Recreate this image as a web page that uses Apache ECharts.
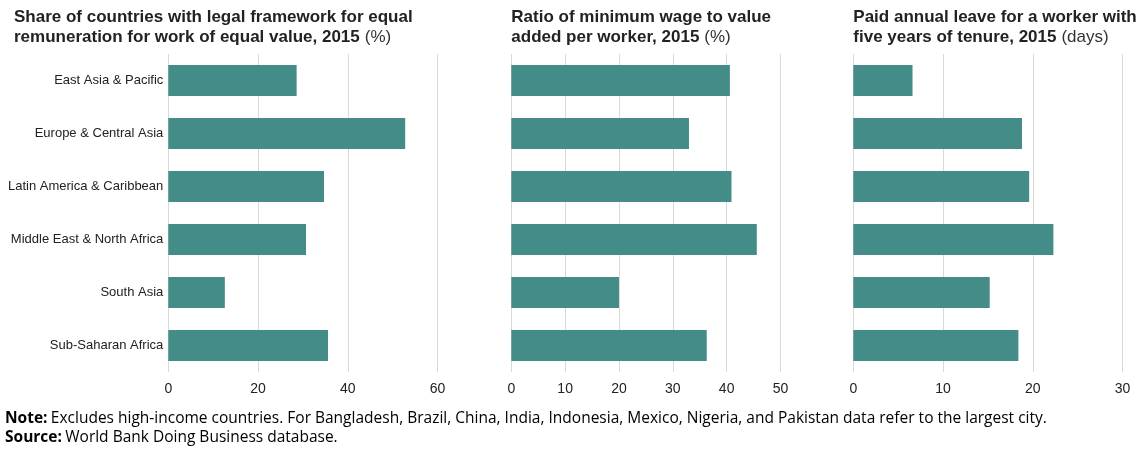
<!DOCTYPE html>
<html><head><meta charset="utf-8">
<script src="https://cdn.jsdelivr.net/npm/echarts@6/dist/echarts.min.js"></script>
<style>html,body{margin:0;padding:0;background:#fff}#c{width:1146px;height:450px}</style>
</head><body><div id="c"></div>
<script>
const categories = ["East Asia & Pacific","Europe & Central Asia","Latin America & Caribbean","Middle East & North Africa","South Asia","Sub-Saharan Africa"];
const equalPay = [28.6, 52.8, 34.7, 30.7, 12.6, 35.6];
const minWageRatio = [40.6, 33.0, 40.9, 45.6, 20.0, 36.3];
const paidLeave = [6.6, 18.8, 19.6, 22.3, 15.2, 18.4];
const titles = [
  ["Share of countries with legal framework for equal", "remuneration for work of equal value, 2015", "(%)"],
  ["Ratio of minimum wage to value", "added per worker, 2015", "(%)"],
  ["Paid annual leave for a worker with", "five years of tenure, 2015", "(days)"]
];
const axisMax = [60, 50, 30];
const axisInterval = [20, 10, 10];
const noteText = "Excludes high-income countries. For Bangladesh, Brazil, China, India, Indonesia, Mexico, Nigeria, and Pakistan data refer to the largest city.";
const sourceText = "World Bank Doing Business database.";

const seriesData = [equalPay, minWageRatio, paidLeave];
const lefts = [168.3, 511.3, 853.3];
const W = 269.2;
const TOP = 54, H = 318;
const sans = "'Liberation Sans', Arial, sans-serif";
const barColor = '#448c87';

const chart = echarts.init(document.getElementById('c'), null, {renderer:'canvas'});
const grids = [], xAxes = [], yAxes = [], series = [], titleComps = [];
for (let i = 0; i < 3; i++) {
  grids.push({left: lefts[i], top: TOP, width: W, height: H, containLabel: false, outerBoundsMode: 'none'});
  xAxes.push({
    type: 'value', gridIndex: i, min: 0, max: axisMax[i], interval: axisInterval[i],
    axisLine: {show: false}, axisTick: {show: false},
    splitLine: {show: true, lineStyle: {color: '#d9d9d9', width: 1}},
    axisLabel: {color: '#222', fontFamily: sans, fontSize: 14, margin: 10}
  });
  yAxes.push({
    type: 'category', gridIndex: i, data: categories, inverse: true,
    axisLine: {show: false}, axisTick: {show: false},
    axisLabel: {show: i === 0, color: '#222', fontFamily: sans, fontSize: 13, margin: 5}
  });
  series.push({
    type: 'bar', xAxisIndex: i, yAxisIndex: i, data: seriesData[i],
    barWidth: 31, itemStyle: {color: barColor}, silent: true
  });
  const t = titles[i];
  titleComps.push({
    left: i === 0 ? 14 : lefts[i], top: 7, padding: 0,
    text: '{b|' + t[0] + '}\n{b|' + t[1] + '} {n|' + t[2] + '}',
    textStyle: {
      rich: {
        b: {fontFamily: sans, fontWeight: 'bold', fontSize: 17, color: '#222', lineHeight: 20},
        n: {fontFamily: sans, fontWeight: 'normal', fontSize: 17, color: '#333', lineHeight: 20}
      }
    }
  });
}
const option = {
  animation: false,
  title: titleComps,
  grid: grids, xAxis: xAxes, yAxis: yAxes, series: series,
  graphic: [{
    type: 'text', left: 5, top: 411,
    style: {
      text: '{b|Note:} {n|' + noteText + '}\n{b|Source:} {n|' + sourceText + '}',
      rich: {
        b: {fontFamily: "'Open Sans', sans-serif", fontWeight: 'bold', fontSize: 15.5, color: '#444', lineHeight: 19},
        n: {fontFamily: "'Open Sans', sans-serif", fontSize: 15.5, color: '#555', lineHeight: 19}
      }
    }
  }]
};
chart.setOption(option);
</script></body></html>
